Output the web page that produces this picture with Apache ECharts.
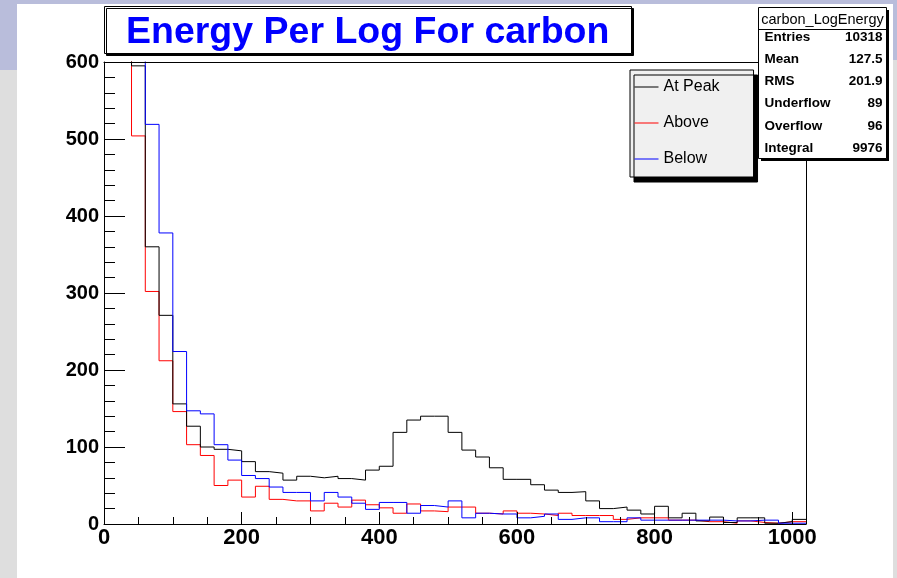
<!DOCTYPE html>
<html>
<head>
<meta charset="utf-8">
<script src="https://cdn.jsdelivr.net/npm/echarts@6/dist/echarts.min.js"></script>
<style>
  html, body { margin: 0; padding: 0; }
  body { width: 897px; height: 578px; position: relative; overflow: hidden; background: #dedede; }
  #bandLeft { position: absolute; left: 0; top: 0; width: 460px; height: 70px; background: #b9bddb; }
  #bandRight { position: absolute; left: 440px; top: 0; width: 457px; height: 60px; background: #b9bddb; }
  #sheet { position: absolute; left: 17px; top: 4px; width: 876px; height: 574px; background: #ffffff; }
  #chart { position: absolute; left: 0; top: 0; width: 897px; height: 578px; }
</style>
</head>
<body>
<div id="bandLeft"></div>
<div id="bandRight"></div>
<div id="sheet"></div>
<div id="chart"></div>
<script>
// Histogram binning: 51 bins of width 20 starting at 0
const binWidth = 20;
const xMax = 1020;
const yMax = 600;

// Bin contents (counts per 20-unit energy bin)
const atPeak = [4007, 2059, 595, 360, 271, 156, 127, 100, 97, 95,
                81, 68, 66, 57, 62, 60, 62, 59, 57, 70,
                75, 119, 135, 140, 140, 119, 96, 87, 73, 58,
                58, 51, 44, 41, 42, 30, 20, 22, 18, 13,
                23, 8, 14, 4, 9, 2, 8, 8, 1, 3, 6];
const above  = [3200, 1600, 504, 302, 212, 146, 103, 89, 50, 57,
                35, 49, 32, 30, 30, 17, 27, 22, 31, 25,
                21, 14, 26, 17, 16, 22, 22, 14, 13, 17,
                14, 13, 11, 14, 11, 11, 11, 6, 8, 8,
                8, 5, 5, 3, 3, 1, 4, 2, 1, 3, 3];
const below  = [4500, 2300, 690, 519, 378, 224, 147, 143, 103, 83,
                63, 59, 48, 41, 41, 30, 41, 35, 27, 19,
                28, 28, 14, 24, 22, 30, 8, 14, 13, 13,
                8, 10, 13, 6, 8, 8, 3, 3, 8, 5,
                5, 5, 5, 5, 5, 4, 4, 5, 5, 1, 1];

// Axis tick labels
const xTickLabels = [0, 200, 400, 600, 800, 1000];
const yTickLabels = [0, 100, 200, 300, 400, 500, 600];

// Statistics box contents
const statsTitle = 'carbon_LogEnergy';
const statNames = ['Entries', 'Mean', 'RMS', 'Underflow', 'Overflow', 'Integral'];
const statValues = ['10318', '127.5', '201.9', '89', '96', '9976'];

const seriesNames = ['At Peak', 'Above', 'Below'];

// Turn bin contents into step-line points at the bin edges
function histPoints(counts) {
  const pts = counts.map((c, i) => [i * binWidth, c]);
  pts.push([counts.length * binWidth, counts[counts.length - 1]]);
  return pts;
}

function histSeries(name, counts, color, z) {
  return {
    name: name,
    type: 'line',
    step: 'end',
    data: histPoints(counts),
    symbol: 'none',
    showSymbol: false,
    clip: true,
    z: z,
    lineStyle: { color: color, width: 1 },
    itemStyle: { color: color },
    emphasis: { disabled: true }
  };
}

const FONT = '"Liberation Sans", Arial, Helvetica, sans-serif';
const plainNumber = v => String(v);

// Stats pave drawn on top of the frame corner
const statsLeft = 758.5, statsTop = 7.5, statsW = 128, statsH = 151, headerH = 22;
const statsGraphics = [
  { type: 'rect', z: 100, shape: { x: statsLeft + 2.5, y: statsTop + 2.5, width: statsW, height: statsH }, style: { fill: '#000' } },
  { type: 'rect', z: 101, shape: { x: statsLeft, y: statsTop, width: statsW, height: statsH }, style: { fill: '#fff', stroke: '#000', lineWidth: 1 } },
  { type: 'line', z: 102, shape: { x1: statsLeft, y1: statsTop + headerH, x2: statsLeft + statsW, y2: statsTop + headerH }, style: { stroke: '#000', lineWidth: 1 } },
  { type: 'text', z: 103, x: statsLeft + statsW / 2, y: statsTop + headerH / 2 + 1,
    style: { text: statsTitle, font: '14.5px ' + FONT, fill: '#000', align: 'center', verticalAlign: 'middle', textAlign: 'center', textVerticalAlign: 'middle' } }
];
statNames.forEach((n, i) => {
  const y = 37 + i * 22.2;
  statsGraphics.push({ type: 'text', z: 103, x: statsLeft + 6, y: y,
    style: { text: n, font: 'bold 13.5px ' + FONT, fill: '#000', align: 'left', verticalAlign: 'middle', textAlign: 'left', textVerticalAlign: 'middle' } });
  statsGraphics.push({ type: 'text', z: 103, x: statsLeft + statsW - 4, y: y,
    style: { text: statValues[i], font: 'bold 13.5px ' + FONT, fill: '#000', align: 'right', verticalAlign: 'middle', textAlign: 'right', textVerticalAlign: 'middle' } });
});

const chart = echarts.init(document.getElementById('chart'), null, { renderer: 'canvas' });
chart.setOption({
  animation: false,
  backgroundColor: 'transparent',
  title: {
    text: 'Energy Per Log For carbon',
    left: 104, top: 7,
    padding: [7, 22, 2, 22],
    backgroundColor: '#fff',
    borderColor: '#000', borderWidth: 1,
    shadowColor: '#000', shadowOffsetX: 2, shadowOffsetY: 2, shadowBlur: 0,
    textStyle: { color: '#0000ff', fontSize: 37.5, fontWeight: 'bold', fontFamily: FONT, lineHeight: 37 }
  },
  legend: {
    data: seriesNames,
    orient: 'vertical',
    left: 630, top: 70,
    itemWidth: 24, itemHeight: 14, itemGap: 20,
    padding: [9, 34, 10, 4],
    backgroundColor: '#f0f0f0',
    borderColor: '#000', borderWidth: 1,
    shadowColor: '#000', shadowOffsetX: 4, shadowOffsetY: 5, shadowBlur: 0,
    selectedMode: false,
    itemStyle: { opacity: 0, borderWidth: 0 },
    lineStyle: { width: 1 },
    textStyle: { fontSize: 16, color: '#000', fontFamily: FONT }
  },
  grid: { left: 104, right: 91, top: 62, bottom: 54, containLabel: false, outerBoundsMode: 'none', show: false },
  xAxis: [
    {
      type: 'value', min: 0, max: xMax, interval: 50, position: 'bottom', z: 10,
      axisLine: { show: true, onZero: false, lineStyle: { color: '#000', width: 1 } },
      axisTick: { show: true, inside: true, length: 7, lineStyle: { color: '#000', width: 1 } },
      axisLabel: { customValues: xTickLabels, formatter: plainNumber, fontSize: 22, fontWeight: 'bold', color: '#000', fontFamily: FONT, margin: 3 },
      splitLine: { show: false }
    },
    {
      type: 'value', min: 0, max: xMax, position: 'bottom', z: 10,
      axisLine: { show: false, onZero: false },
      axisTick: { show: true, inside: true, length: 12, customValues: xTickLabels, lineStyle: { color: '#000', width: 1 } },
      axisLabel: { show: false },
      splitLine: { show: false }
    },
    {
      type: 'value', min: 0, max: xMax, position: 'top', z: 10,
      axisLine: { show: true, onZero: false, lineStyle: { color: '#000', width: 1 } },
      axisTick: { show: false }, axisLabel: { show: false }, splitLine: { show: false }
    }
  ],
  yAxis: [
    {
      type: 'value', min: 0, max: yMax, interval: 100, position: 'left', z: 10,
      axisLine: { show: true, onZero: false, lineStyle: { color: '#000', width: 1 } },
      axisTick: { show: true, inside: true, length: 21, lineStyle: { color: '#000', width: 1 } },
      minorTick: { show: true, splitNumber: 5, length: 11, lineStyle: { color: '#000', width: 1 } },
      axisLabel: { customValues: yTickLabels, formatter: plainNumber, fontSize: 20, fontWeight: 'bold', color: '#000', fontFamily: FONT, margin: 5 },
      splitLine: { show: false }, minorSplitLine: { show: false }
    },
    {
      type: 'value', min: 0, max: yMax, position: 'right', z: 10,
      axisLine: { show: true, onZero: false, lineStyle: { color: '#000', width: 1 } },
      axisTick: { show: false }, axisLabel: { show: false }, splitLine: { show: false }
    }
  ],
  series: [
    histSeries('Above', above, '#ff0000', 2),
    histSeries('At Peak', atPeak, '#000000', 3),
    histSeries('Below', below, '#0000ff', 4)
  ],
  graphic: statsGraphics
});
</script>
</body>
</html>
